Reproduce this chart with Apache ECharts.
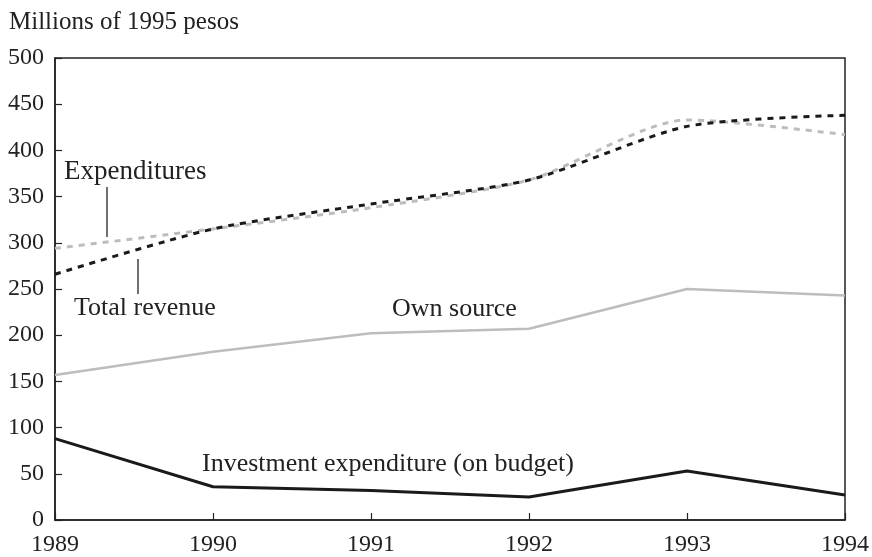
<!DOCTYPE html>
<html>
<head>
<meta charset="utf-8">
<script src="https://cdn.jsdelivr.net/npm/echarts@6/dist/echarts.min.js"></script>
<style>
  html, body { margin: 0; padding: 0; background: #fff; }
  #chart { width: 872px; height: 557px; }
</style>
</head>
<body>
<div id="chart"></div>
<script>
// data
const years = ['1989', '1990', '1991', '1992', '1993', '1994'];
const expenditures = [294, 315, 338, 368, 433, 417];
const totalRevenue = [266, 315, 342, 368, 426, 438];
const ownSource = [157, 182, 202, 207, 250, 243];
const investment = [88, 36, 32, 25, 53, 27];
const yTicks = [0, 50, 100, 150, 200, 250, 300, 350, 400, 450, 500];

const font = 'Liberation Serif';
const chart = echarts.init(document.getElementById('chart'));

// annotation text helper
function note(text, x, y, size) {
  return {
    type: 'text',
    x: x, y: y,
    style: {
      text: text,
      font: size + 'px "Liberation Serif"',
      fill: '#222',
      align: 'left',
      verticalAlign: 'middle'
    }
  };
}

let option = {
  animation: false,
  textStyle: { fontFamily: font },
  grid: {
    left: 55, right: 25, top: 58, bottom: 36,
    show: true,
    borderColor: '#222',
    borderWidth: 1.5
  },
  xAxis: {
    type: 'category',
    data: years,
    boundaryGap: false,
    axisLine: { lineStyle: { color: '#222', width: 1.5 } },
    axisTick: { inside: true, length: 7, lineStyle: { color: '#222', width: 1.2 } },
    axisLabel: { color: '#222', fontSize: 24, fontFamily: font, margin: 13 },
    splitLine: { show: false }
  },
  yAxis: {
    type: 'value',
    min: yTicks[0],
    max: yTicks[yTicks.length - 1],
    interval: 50,
    axisLine: { show: true, lineStyle: { color: '#222', width: 1.5 } },
    axisTick: { show: true, inside: true, length: 7, lineStyle: { color: '#222', width: 1.2 } },
    axisLabel: { color: '#222', fontSize: 24, fontFamily: font, margin: 11 },
    splitLine: { show: false }
  },
  series: [
    {
      name: 'Expenditures',
      type: 'line',
      data: expenditures,
      smooth: 0.25,
      symbol: 'none',
      lineStyle: { color: '#bdbdbd', width: 3, type: [6, 6] }
    },
    {
      name: 'Total revenue',
      type: 'line',
      data: totalRevenue,
      smooth: 0.25,
      symbol: 'none',
      lineStyle: { color: '#1a1a1a', width: 3, type: [6, 6] }
    },
    {
      name: 'Own source',
      type: 'line',
      data: ownSource,
      symbol: 'none',
      lineStyle: { color: '#bdbdbd', width: 2.5 }
    },
    {
      name: 'Investment expenditure (on budget)',
      type: 'line',
      data: investment,
      symbol: 'none',
      lineStyle: { color: '#1a1a1a', width: 3 }
    }
  ],
  graphic: [
    note('Millions of 1995 pesos', 9, 22, 25),
    note('Expenditures', 64, 172, 27),
    { type: 'line', shape: { x1: 107, y1: 187, x2: 107, y2: 237 }, style: { stroke: '#222', lineWidth: 1.3 } },
    note('Total revenue', 74, 308, 26),
    { type: 'line', shape: { x1: 138, y1: 259, x2: 138, y2: 294 }, style: { stroke: '#222', lineWidth: 1.3 } },
    note('Own source', 392, 309, 26),
    note('Investment expenditure (on budget)', 202, 464, 26)
  ]
};
chart.setOption(option);
</script>
</body>
</html>
